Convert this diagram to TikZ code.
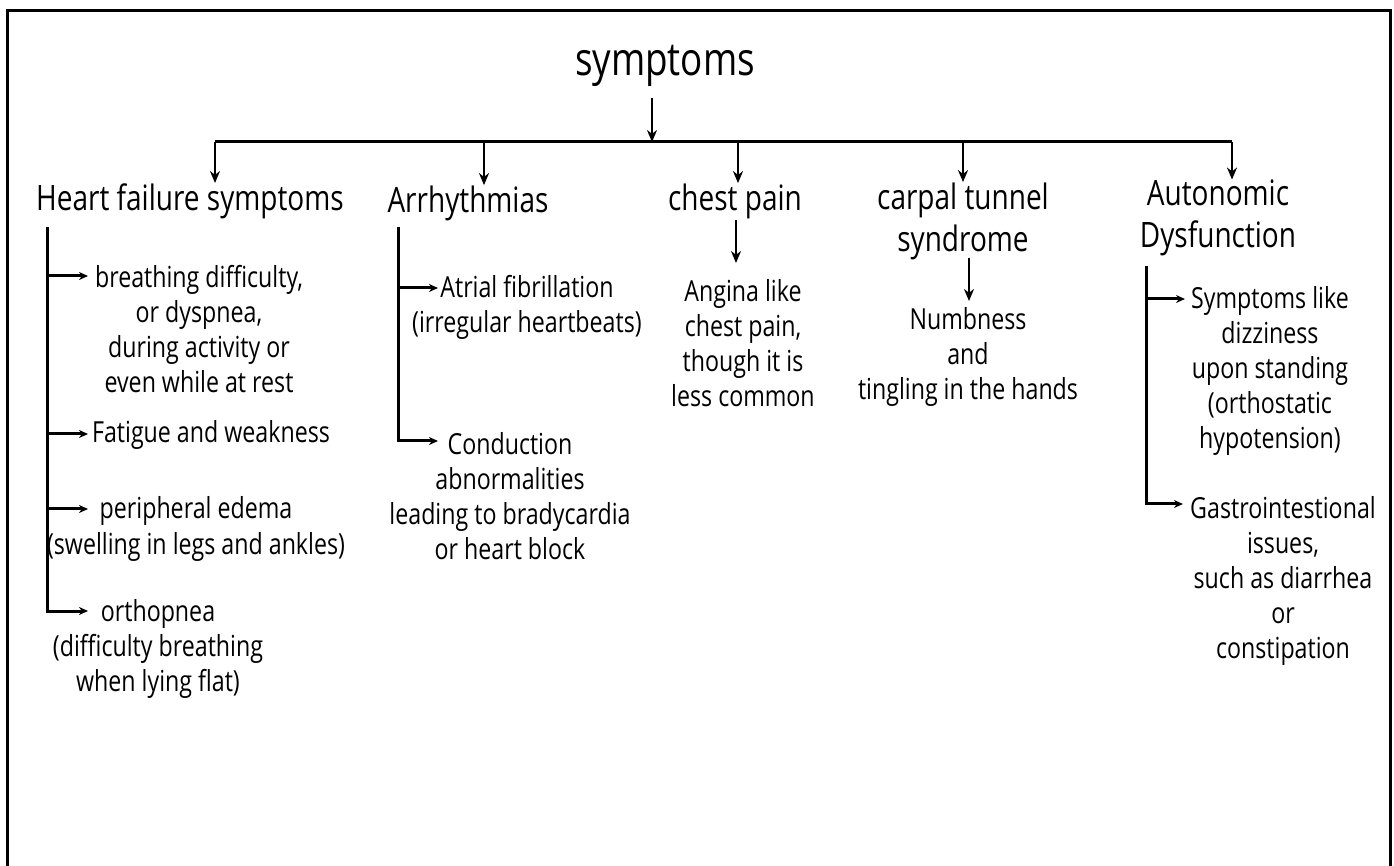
\documentclass[tikz,border=0pt]{standalone}
\usepackage{fontspec}
\setmainfont{Open Sans}[FakeStretch=0.8]
\usetikzlibrary{arrows.meta}
\tikzset{
  frame/.style={line width=1.5pt},
  conn/.style={line width=1.5pt},
  arr/.style={line width=1.4pt,-{Stealth[length=6pt,width=5pt]}},
  sarr/.style={line width=1.5pt,-{Stealth[length=4.5pt,width=4pt]}},
  titletxt/.style={inner sep=0pt,font=\fontsize{23}{27}\selectfont},
  headtxt/.style={inner sep=0pt,align=center,font=\fontsize{17.5}{21}\selectfont},
  bodytxt/.style={inner sep=0pt,align=center,font=\fontsize{14.5}{17.6}\selectfont}
}
\begin{document}
\begin{tikzpicture}[x=0.5pt,y=-0.5pt]
\useasboundingbox (0,0) rectangle (1394,866);
\draw[frame] (7,866) -- (7,11) -- (1390,11) -- (1390,866);

% root
\node[titletxt] (root) at (665,66) {symptoms};
\coordinate (rtop) at (652,98);
\coordinate (rb) at (652,142);
\draw[arr] (rtop) -- (rb);

% bus
\coordinate (d1) at (215,142);
\coordinate (d2) at (484,142);
\coordinate (d3) at (738,142);
\coordinate (d4) at (963,142);
\coordinate (d5) at (1232,142);
\draw[conn] (d1) -- (d5);

% headings
\node[headtxt] (hf) at (190,201) {Heart failure symptoms};
\node[headtxt] (ar) at (468,203) {Arrhythmias};
\node[headtxt] (cp) at (735,201) {chest pain};
\node[headtxt] (ct) at (963,221) {carpal tunnel\\syndrome};
\node[headtxt] (ad) at (1218,218) {Autonomic\\Dysfunction};

\draw[arr] (d1) -- (d1 |- hf.north);
\draw[arr] (d2) -- (d2 |- ar.north);
\draw[arr] (d3) -- (d3 |- cp.north);
\draw[arr] (d4) -- (d4 |- ct.north);
\draw[arr] (d5) -- (d5 |- ad.north);

% Heart failure branch
\node[bodytxt] (hf1) at (199,329) {breathing difficulty,\\or dyspnea,\\during activity or\\even while at rest};
\node[bodytxt] (hf2) at (211,435) {Fatigue and weakness};
\node[bodytxt] (hf3) at (196,529) {peripheral edema\\(swelling in legs and ankles)};
\node[bodytxt] (hf4) at (158,649) {orthopnea\\(difficulty breathing\\when lying flat)};
\coordinate (hfv) at (47,227);
\coordinate (hfa1) at (88,276);
\coordinate (hfa2) at (88,434);
\coordinate (hfa3) at (88,509);
\coordinate (hfa4) at (88,611);
\draw[sarr] (hfv) -- (hfv |- hfa4) -- (hfa4);
\draw[sarr] (hfv |- hfa1) -- (hfa1);
\draw[sarr] (hfv |- hfa2) -- (hfa2);
\draw[sarr] (hfv |- hfa3) -- (hfa3);

% Arrhythmias branch
\node[bodytxt] (ar1) at (527,307) {Atrial fibrillation\\(irregular heartbeats)};
\node[bodytxt] (ar2) at (510,496) {Conduction\\abnormalities\\leading to bradycardia\\or heart block};
\coordinate (arv) at (398,227);
\coordinate (ara1) at (438,288);
\coordinate (ara2) at (438,441);
\draw[sarr] (arv) -- (arv |- ara2) -- (ara2);
\draw[sarr] (arv |- ara1) -- (ara1);

% chest pain
\node[bodytxt] (cp1) at (743,343) {Angina like\\chest pain,\\though it is\\less common};
\coordinate (cpt) at (736,220);
\coordinate (cpe) at (736,263);
\draw[arr] (cpt) -- (cpe);

% carpal tunnel
\node[bodytxt] (ct1) at (968,357) {Numbness\\and\\tingling in the hands};
\coordinate (ctt) at (969,258);
\coordinate (cte) at (969,301);
\draw[arr] (ctt) -- (cte);

% Autonomic
\node[bodytxt] (ad1) at (1270,371) {Symptoms like\\dizziness\\upon standing\\(orthostatic\\hypotension)};
\node[bodytxt] (ad2) at (1283,581) {Gastrointestional\\issues,\\such as diarrhea\\or\\constipation};
\coordinate (adv) at (1146,266);
\coordinate (ada1) at (1185,299);
\coordinate (ada2) at (1183,504);
\draw[sarr] (adv) -- (adv |- ada2) -- (ada2);
\draw[sarr] (adv |- ada1) -- (ada1);
\end{tikzpicture}
\end{document}
